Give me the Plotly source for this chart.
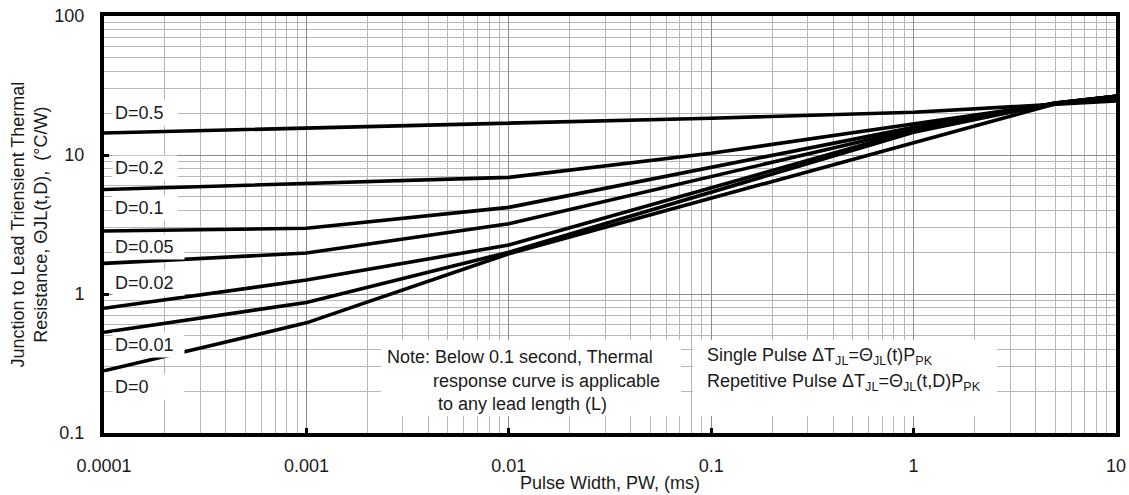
import plotly.graph_objects as go

# ---- data ----
pulse_width = [0.0001, 0.001, 0.01, 0.1, 1, 5, 10]
d_050 = [14.4, 15.6, 17.0, 18.4, 20.3, 23.0, 24.5]
d_020 = [5.65, 6.25, 6.9, 10.3, 16.6, 23.5, 26.5]
d_010 = [2.84, 2.97, 4.2, 8.1, 15.8, 23.6, 26.5]
d_005 = [1.66, 1.97, 3.2, 7.0, 15.3, 23.6, 26.5]
d_002 = [0.79, 1.26, 2.25, 5.8, 15.0, 23.7, 26.5]
d_001 = [0.53, 0.87, 2.0, 5.4, 14.6, 23.7, 26.5]
d_000 = [0.28, 0.62, 1.95, 4.9, 12.2, 23.3, 26.0]

series = [d_050, d_020, d_010, d_005, d_002, d_001, d_000]
labels = ["D=0.5", "D=0.2", "D=0.1", "D=0.05", "D=0.02", "D=0.01", "D=0"]

x_tickvals = [0.0001, 0.001, 0.01, 0.1, 1, 10]
x_ticktext = ["0.0001", "0.001", "0.01", "0.1", "1", "10"]
y_tickvals = [0.1, 1, 10, 100]
y_ticktext = ["0.1", "1", "10", "100"]

W, H = 1129, 495
ML, MR, MT, MB = 104, 13, 16, 62
PW, PH = W - ML - MR, H - MT - MB
FONT = "Liberation Sans, Arial, sans-serif"
TXT = "#1a1a1a"


def px_x(px):
    return (px - ML) / PW


def px_y(py):
    return (H - MB - py) / PH


fig = go.Figure()
for vals, name in zip(series, labels):
    fig.add_trace(go.Scatter(x=pulse_width, y=vals, mode="lines", name=name,
                             line=dict(color="black", width=3.6),
                             showlegend=False))

# label positions (pixel centre y) and white box widths
label_y = [113, 168, 208, 247, 283, 345, 387]
label_w = [60, 60, 60, 67, 67, 67, 67]
annotations = []
for name, ly, lw in zip(labels, label_y, label_w):
    annotations.append(dict(text=name, x=px_x(112), y=px_y(ly), xref="paper", yref="paper",
                            xanchor="left", yanchor="middle", showarrow=False,
                            align="left", width=lw, bgcolor="white", borderpad=2,
                            font=dict(family=FONT, size=18, color=TXT)))

note_lines = [("Note: Below 0.1 second, Thermal", 386, 357),
              ("response curve is applicable", 432, 381),
              ("to any lead length (L)", 437, 404),
              ("Single Pulse ΔT<sub>JL</sub>=Θ<sub>JL</sub>(t)P<sub>PK</sub>", 706, 356),
              ("Repetitive Pulse ΔT<sub>JL</sub>=Θ<sub>JL</sub>(t,D)P<sub>PK</sub>", 706, 382)]
for t, lx, ly in note_lines:
    annotations.append(dict(text=t, x=px_x(lx), y=px_y(ly), xref="paper", yref="paper",
                            xanchor="left", yanchor="middle", showarrow=False,
                            borderpad=0, font=dict(family=FONT, size=18, color=TXT)))

annotations.append(dict(text="Junction to Lead Triensient Thermal<br>Resistance, ΘJL(t,D),  (°C/W)",
                        x=px_x(29), y=0.5, xref="paper", yref="paper", textangle=-90,
                        xanchor="center", yanchor="middle", showarrow=False,
                        font=dict(family=FONT, size=18, color=TXT)))
annotations.append(dict(text="Pulse Width, PW, (ms)", x=0.5, y=px_y(483), xref="paper", yref="paper",
                        xanchor="center", yanchor="middle", showarrow=False,
                        font=dict(family=FONT, size=18, color=TXT)))

shapes = [
    dict(type="rect", xref="paper", yref="paper", x0=px_x(381), x1=px_x(681),
         y0=px_y(416), y1=px_y(340), fillcolor="white", line=dict(width=0), layer="above"),
    dict(type="rect", xref="paper", yref="paper", x0=px_x(693), x1=px_x(997),
         y0=px_y(416), y1=px_y(340), fillcolor="white", line=dict(width=0), layer="above"),
]

axis_common = dict(type="log", showline=True, linecolor="black", linewidth=4, mirror=True,
                   showgrid=True, gridcolor="#8c8c8c", gridwidth=1, automargin=False,
                   ticks="inside", ticklen=5, tickwidth=3, tickcolor="black",
                   tickfont=dict(family=FONT, size=18, color=TXT), zeroline=False,
                   minor=dict(dtick="D1", showgrid=True, gridcolor="#b8b8b8", gridwidth=1,
                              ticks=""))

fig.update_layout(
    width=W, height=H,
    margin=dict(l=ML, r=MR, t=MT, b=MB, autoexpand=False),
    paper_bgcolor="white", plot_bgcolor="white",
    xaxis=dict(range=[-4, 1], tickmode="array", tickvals=x_tickvals, ticktext=x_ticktext,
               ticklabelstandoff=13, **axis_common),
    yaxis=dict(range=[-1, 2], tickmode="array", tickvals=y_tickvals, ticktext=y_ticktext,
               ticklabelstandoff=12, **axis_common),
    annotations=annotations,
    shapes=shapes,
)

fig.write_html("out.html", config={"displayModeBar": False},
               post_script="document.body.style.margin='0';document.body.style.overflow='hidden';")
